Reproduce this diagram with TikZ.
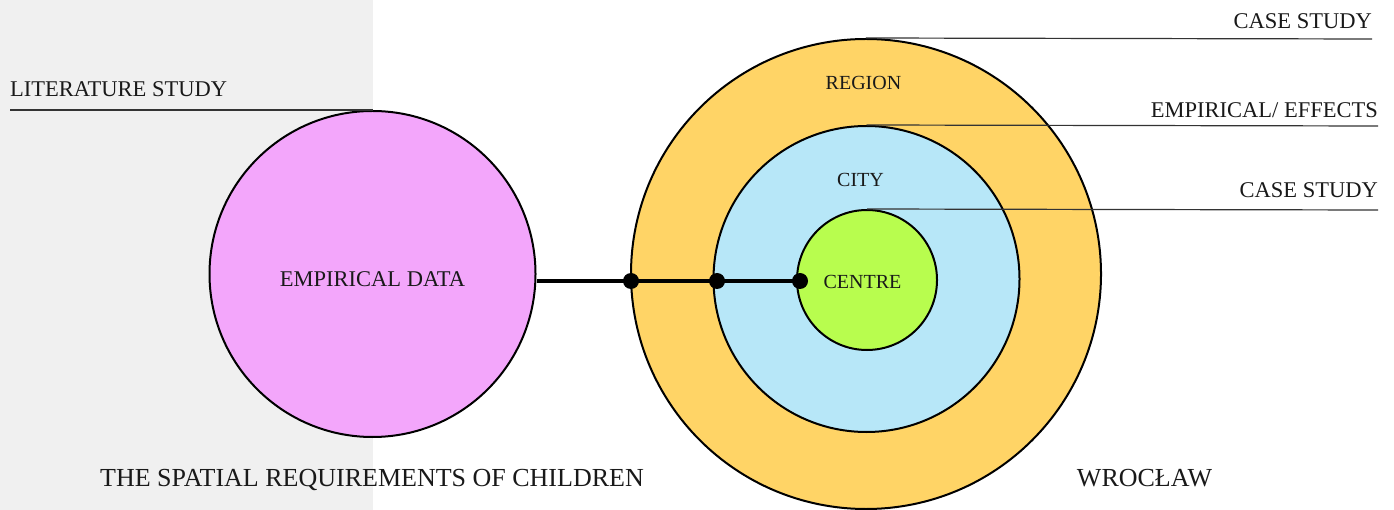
\documentclass[tikz,border=0pt]{standalone}
\usepackage{fontspec}
\setmainfont{Liberation Serif}
\usetikzlibrary{positioning}
\definecolor{bggray}{HTML}{F0F0F0}
\definecolor{datapink}{HTML}{F3A6FB}
\definecolor{regionorange}{HTML}{FFD466}
\definecolor{cityblue}{HTML}{B7E7F8}
\definecolor{centregreen}{HTML}{B8FD4E}

\tikzset{
    ring/.style={circle, draw=black, line width=2pt, inner sep=0pt},
    caption/.style={inner sep=0pt, text=black!90, font=\fontsize{22.5}{24}\selectfont},
    smallcaption/.style={caption, font=\fontsize{20}{22}\selectfont},
    bigcaption/.style={caption, font=\fontsize{26}{28}\selectfont},
    leader/.style={line width=1.2pt, black!80},
    link/.style={line width=3.5pt},
    junction/.style={circle, fill=black, inner sep=0pt, minimum size=16pt}
}

\begin{document}
\begin{tikzpicture}[x=1pt, y=-1pt]
    \useasboundingbox (0,0) rectangle (1394,510);

    % Grey band on the left
    \fill[bggray] (0,0) rectangle (373,510);

    % Circles
    \node[ring, fill=datapink, minimum size=326pt] (data) at (372.5,274) {};
    \node[ring, fill=regionorange, minimum size=470pt] (region) at (866,274) {};
    \node[ring, fill=cityblue, minimum size=306pt] (city) at (866.5,279) {};
    \node[ring, fill=centregreen, minimum size=140pt] (centre) at (867,280) {};

    % Labels inside the circles
    \node[caption] (datalbl) at (372.5,279.5) {EMPIRICAL DATA};
    \node[smallcaption] (regionlbl) at (863.5,83) {REGION};
    \node[smallcaption] (citylbl) at (860.5,180) {CITY};
    \node[smallcaption] (centrelbl) at (862.5,282) {CENTRE};

    % Connector with its three dots
    \coordinate (linkstart) at (537,281);
    \coordinate (j1) at (631,281);
    \coordinate (j2) at (717,281);
    \coordinate (j3) at (800,281);
    \draw[link] (linkstart) -- (j1) -- (j2) -- (j3);
    \node[junction] (dot1) at (j1) {};
    \node[junction] (dot2) at (j2) {};
    \node[junction] (dot3) at (j3) {};

    % Leader lines from the tops of the circles
    \coordinate (litend) at (10,110);
    \coordinate (regionend) at (1372,39);
    \coordinate (cityend) at (1378,126);
    \coordinate (centreend) at (1378,210);
    \draw[leader] (litend) -- (data.north);
    \draw[leader] (region.north) -- (regionend);
    \draw[leader] (city.north) -- (cityend);
    \draw[leader] (centre.north) -- (centreend);

    % Leader texts
    \node[caption, anchor=base west] (littxt) at (10,97) {LITERATURE STUDY};
    \node[caption, anchor=base east] (regiontxt) at (1372,29) {CASE STUDY};
    \node[caption, anchor=base east] (citytxt) at (1378,118) {EMPIRICAL/ EFFECTS};
    \node[caption, anchor=base east] (centretxt) at (1378,198) {CASE STUDY};

    % Titles at the bottom
    \node[bigcaption, anchor=base] (lefttitle) at (372,486) {THE SPATIAL REQUIREMENTS OF CHILDREN};
    \node[bigcaption, anchor=base] (righttitle) at (1144.5,486) {WROCŁAW};

\end{tikzpicture}
\end{document}
